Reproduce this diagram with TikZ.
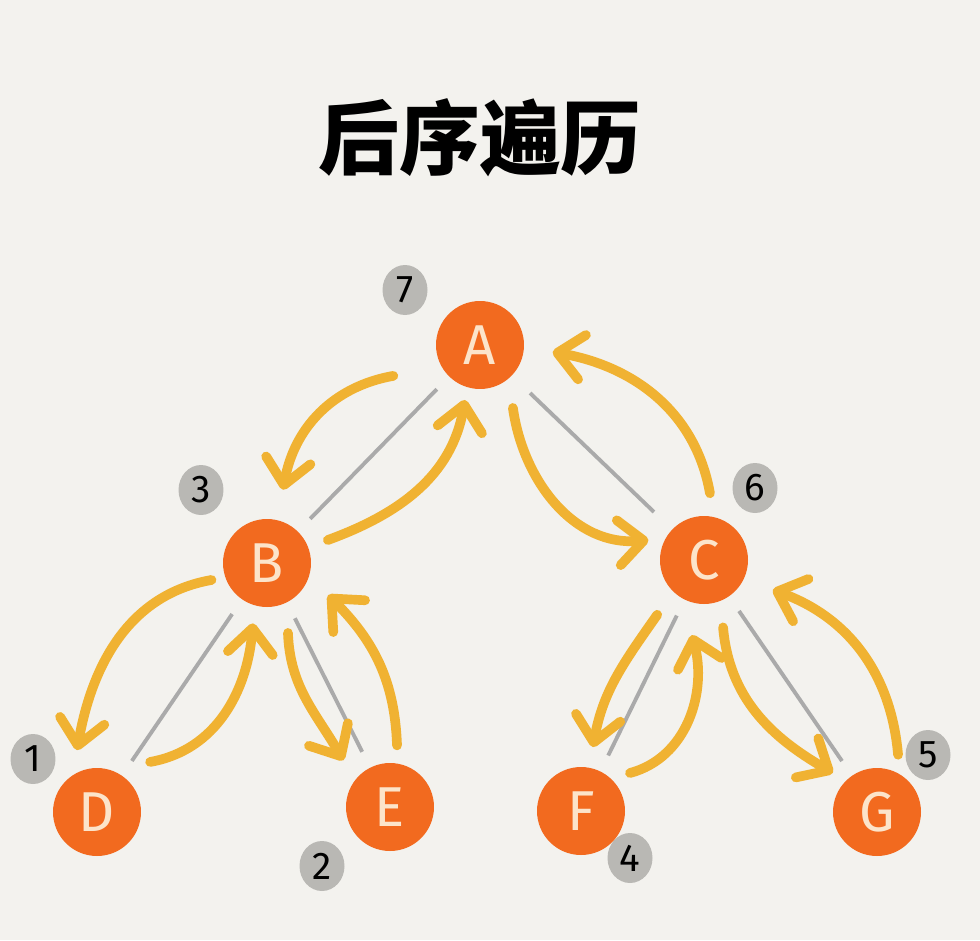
\documentclass[tikz,border=0pt]{standalone}
\usepackage{fontspec}
\setsansfont{Fira Sans}
\newfontfamily\cjkfont{Noto Sans CJK SC}
\usepackage{tikz}
\usetikzlibrary{arrows.meta,calc,shapes.geometric}
\definecolor{paperWhite}{HTML}{F3F2EE}
\definecolor{nodeOrange}{HTML}{F26A1F}
\definecolor{letterCream}{HTML}{FCE4CA}
\definecolor{walkYellow}{HTML}{F0B232}
\definecolor{branchGray}{HTML}{AAAAAA}
\definecolor{badgeGray}{HTML}{B9B8B4}

\tikzset{
  treenode/.style={circle,fill=nodeOrange,minimum size=1.76cm,inner sep=0pt,
    text=letterCream,font=\sffamily\fontsize{32}{32}\selectfont},
  badge/.style={ellipse,fill=badgeGray,minimum width=0.9cm,minimum height=1.0cm,
    inner sep=0pt,font=\sffamily\fontsize{22}{22}\selectfont},
  branch/.style={branchGray,line width=2.2pt,shorten <=0.35cm,shorten >=0.35cm},
  walk/.style={walkYellow,line width=5.5pt,line cap=round,
    -{Straight Barb[length=5mm,width=9mm,round]}}
}

\begin{document}
\begin{tikzpicture}[x=0.02cm,y=0.02cm]
\fill[paperWhite] (0,0) rectangle (980,-940);
\useasboundingbox (0,0) rectangle (980,-940);

\node[font=\cjkfont\bfseries\fontsize{46}{46}\selectfont] (title) at (480,-138) {后序遍历};

% visiting order
\node[badge] (n7) at (405,-290) {7};
\node[badge] (n3) at (201,-490) {3};
\node[badge] (n1) at (33,-759) {1};
\node[badge] (n2) at (322,-866) {2};
\node[badge] (n4) at (630,-858) {4};
\node[badge] (n6) at (755,-488) {6};
\node[badge] (n5) at (928,-755) {5};

\node[treenode] (A) at (480,-345) {A};
\node[treenode] (B) at (267,-563) {B};
\node[treenode] (C) at (704,-560) {C};
\node[treenode] (D) at (97,-812) {D};
\node[treenode] (E) at (390,-807) {E};
\node[treenode] (F) at (581,-811) {F};
\node[treenode] (G) at (877,-812) {G};

\draw[branch] (A) -- (B);
\draw[branch,shorten <=0.5cm,shorten >=0.5cm] (A) -- (C);
\draw[branch] (B) -- (D);
\draw[branch] (B) -- (E);
\draw[branch] (C) -- (F);
\draw[branch] (C) -- (G);

% walk round the tree
\draw[walk] ($(A)+(199.6:92)$) to[out=190,in=80] ($(B)+(77.6:75)$);
\draw[walk] ($(B)+(20.7:65)$) to[out=20,in=260] ($(A)+(254.7:57)$);
\draw[walk] ($(A)+(297.6:71)$) to[out=278,in=185] ($(C)+(160.3:59)$);
\draw[walk] ($(C)+(84.9:67)$) to[out=100,in=350] ($(A)+(354.5:73)$);
\draw[walk] ($(B)+(197:58)$) to[out=190,in=80] ($(D)+(107.9:65)$);
\draw[walk] ($(D)+(43.3:73)$) to[out=10,in=265] ($(B)+(256.9:62)$);
\draw[walk] ($(B)+(286.7:73)$) to[out=272,in=120] ($(E)+(135:66)$);
\draw[walk] ($(E)+(83.5:62)$) to[out=92,in=315] ($(B)+(332.3:69)$);
\draw[walk] ($(C)+(229.5:72)$) to[out=235,in=80] ($(F)+(79.4:65)$);
\draw[walk] ($(F)+(37.8:62)$) to[out=15,in=285] ($(C)+(260.9:76)$);
\draw[walk] ($(C)+(285.8:70)$) to[out=275,in=150] ($(G)+(138.4:59)$);
\draw[walk] ($(G)+(69.8:61)$) to[out=95,in=340] ($(C)+(336.5:75)$);
\end{tikzpicture}
\end{document}
